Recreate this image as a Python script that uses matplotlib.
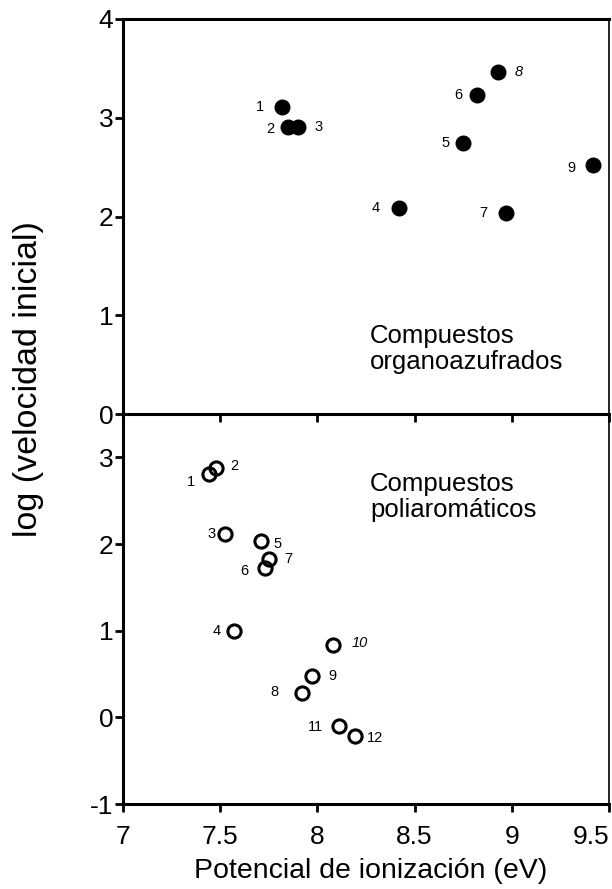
import matplotlib
matplotlib.use('Agg')
import matplotlib.pyplot as plt

plt.rcParams['font.family'] = ['Liberation Sans', 'DejaVu Sans']
plt.rcParams['axes.unicode_minus'] = False

# Compuestos organoazufrados (top panel)
s_ids = ['1', '2', '3', '4', '5', '6', '7', '8', '9']
s_ip = [7.82, 7.85, 7.90, 8.42, 8.75, 8.82, 8.97, 8.93, 9.42]
s_logv = [3.11, 2.91, 2.91, 2.09, 2.74, 3.23, 2.04, 3.46, 2.52]

# Compuestos poliaromaticos (bottom panel)
p_ids = ['1', '2', '3', '4', '5', '6', '7', '8', '9', '10', '11', '12']
p_ip = [7.44, 7.48, 7.525, 7.57, 7.71, 7.73, 7.75, 7.92, 7.97, 8.08, 8.11, 8.195]
p_logv = [2.81, 2.88, 2.11, 1.00, 2.03, 1.72, 1.83, 0.28, 0.48, 0.84, -0.10, -0.21]

# label offsets in points (dx, dy)
s_off = [(-16, 0), (-13, -2), (15, 0), (-17, 0), (-13, 0), (-13, 0), (-16, 0), (15, 0), (-16, -2)]
p_off = [(-13, -6), (13, 1), (-10, 0), (-12, 0), (12, -2), (-15, -2), (14, 0),
         (-20, 1), (15, 0), (19, 1), (-17, -1), (14, -2)]
s_italic = ['8']
p_italic = ['10']

fig = plt.figure(figsize=(6.12, 8.89), dpi=100)
left, right = 123 / 612, 609 / 612
y_top, y_mid, y_bot = 1 - 19 / 889, 1 - 414 / 889, 1 - 804 / 889
ax2 = fig.add_axes([left, y_bot, right - left, y_mid - y_bot])
ax1 = fig.add_axes([left, y_mid, right - left, y_top - y_mid])
ax2.patch.set_alpha(0)
ax1.patch.set_alpha(0)

ax1.plot(s_ip, s_logv, 'o', color='black', markersize=10.5, linestyle='none')
for i, lab in enumerate(s_ids):
    ax1.annotate(lab, (s_ip[i], s_logv[i]), xytext=s_off[i], textcoords='offset points',
                 ha='center', va='center', fontsize=10.5,
                 style='italic' if lab in s_italic else 'normal')

ax2.plot(p_ip, p_logv, 'o', markerfacecolor='none', markeredgecolor='black',
         markersize=9.5, markeredgewidth=2.2, linestyle='none')
for i, lab in enumerate(p_ids):
    ax2.annotate(lab, (p_ip[i], p_logv[i]), xytext=p_off[i], textcoords='offset points',
                 ha='center', va='center', fontsize=10.5,
                 style='italic' if lab in p_italic else 'normal')

ax1.set_xlim(7, 9.5)
ax2.set_xlim(7, 9.5)
ax1.set_ylim(0, 4)
ax2.set_ylim(-1, 3.5)
ax1.set_yticks([0, 1, 2, 3, 4])
ax2.set_yticks([-1, 0, 1, 2, 3])
ax2.set_xticks([7, 7.5, 8, 8.5, 9, 9.5])
ax2.set_xticklabels(['7', '7.5', '8', '8.5', '9', '9.5'])
ax1.set_xticks([7, 7.5, 8, 8.5, 9, 9.5])
ax1.tick_params(axis='x', labelbottom=False)

for ax in (ax1, ax2):
    ax.tick_params(axis='both', direction='out', length=6, width=2, labelsize=19, pad=1)
    ax.tick_params(axis='x', pad=9)
    for side in ('left', 'bottom', 'top'):
        ax.spines[side].set_linewidth(2.2)
    ax.spines['right'].set_linewidth(1.2)
ax2.spines['top'].set_visible(False)
ax2.get_xticklabels()[-1].set_horizontalalignment('right')

ax1.text(8.27, 0.66, 'Compuestos\norganoazufrados', fontsize=18.5, ha='left', va='center',
         linespacing=1.1)
ax2.text(8.27, 2.54, 'Compuestos\npoliaromáticos', fontsize=18.5, ha='left', va='center',
         linespacing=1.1)

fig.text(371 / 612, 1 - 871 / 889, 'Potencial de ionización (eV)',
         fontsize=20.5, ha='center', va='center')
fig.text(29 / 612, 1 - 379 / 889, 'log (velocidad inicial)', fontsize=24.5,
         rotation=90, ha='center', va='center')

fig.savefig('out.png', dpi=100)
